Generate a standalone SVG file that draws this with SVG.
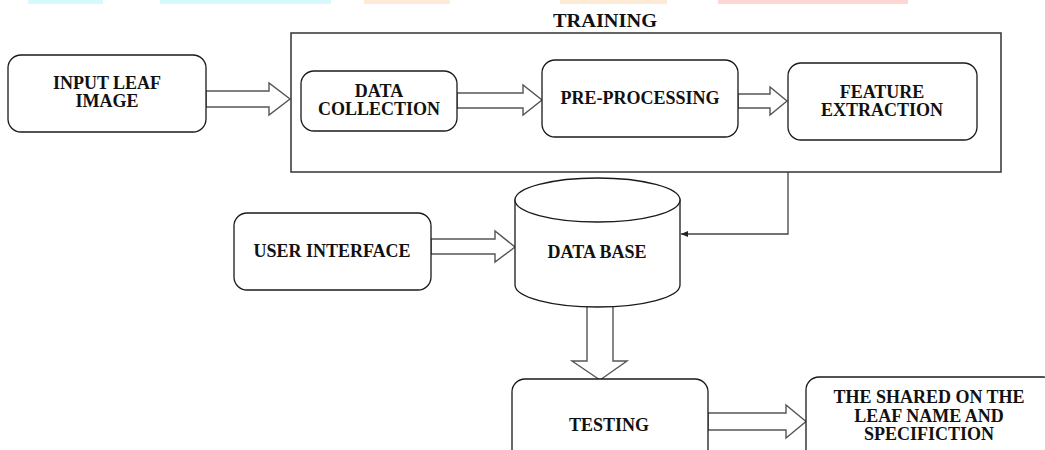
<svg xmlns="http://www.w3.org/2000/svg" width="1045" height="450" viewBox="0 0 1045 450">
  <style>
    .box { fill: #ffffff; stroke: #1a1a1a; stroke-width: 1.3; }
    .frame { fill: none; stroke: #333333; stroke-width: 1.5; }
    .blk { fill: #ffffff; stroke: #555555; stroke-width: 1.4; stroke-linejoin: miter; }
    .line { fill: none; stroke: #444444; stroke-width: 1.3; }
    .t { font-family: "Liberation Serif", "Times New Roman", serif; font-weight: bold; font-size: 18px; fill: #111111; text-anchor: middle; }
    .strip-c { fill: #d6fafc; }
    .strip-o { fill: #fdebd8; }
    .strip-p { fill: #fdd7d3; }
  </style>
  <defs>
    <marker id="ah" markerWidth="8" markerHeight="8" refX="7" refY="4" orient="auto" markerUnits="userSpaceOnUse">
      <path d="M0,1 L7,4 L0,7 Z" fill="#222222"/>
    </marker>
  </defs>
  <rect width="1045" height="450" fill="#ffffff"/>

  <!-- top decorative strips -->
  <g id="strips">
    <rect class="strip-c" x="28" y="0" width="75" height="4"/>
    <rect class="strip-c" x="160" y="0" width="171" height="4"/>
    <rect class="strip-o" x="364" y="0" width="86" height="4"/>
    <rect class="strip-o" x="560" y="0" width="107" height="4"/>
    <rect class="strip-p" x="718" y="0" width="190" height="4"/>
  </g>

  <!-- connectors -->
  <g id="connectors">
    <polygon class="blk" points="206,91 269,91 269,83 290,99 269,115 269,107 206,107"/>
    <polygon class="blk" points="457,93 523,93 523,85 542,100 523,115 523,108 457,108"/>
    <polygon class="blk" points="738,94 770,94 770,87 787,101 770,115 770,108 738,108"/>
    <polygon class="blk" points="431,239 495,239 495,231 515,247 495,262 495,254 431,254"/>
    <polygon class="blk" points="587,300 613,300 613,361 627,361 600,380 572,361 587,361"/>
    <polygon class="blk" points="708,413 786,413 786,405 806,421.5 786,438 786,430 708,430"/>
    <path class="line" d="M788,172 V234 H681" marker-end="url(#ah)"/>
  </g>

  <!-- training frame -->
  <g id="training">
    <rect class="frame" x="291" y="33" width="710" height="139"/>
    <text class="t" x="605" y="27" textLength="104" lengthAdjust="spacingAndGlyphs">TRAINING</text>
  </g>

  <g id="input-leaf-image">
    <rect class="box" x="8" y="55" width="198" height="77" rx="13"/>
    <text class="t" x="107" y="89">INPUT LEAF</text>
    <text class="t" x="107" y="107">IMAGE</text>
  </g>

  <g id="data-collection">
    <rect class="box" x="301" y="71" width="156" height="60" rx="13"/>
    <text class="t" x="379" y="97">DATA</text>
    <text class="t" x="379" y="115">COLLECTION</text>
  </g>

  <g id="pre-processing">
    <rect class="box" x="542" y="60" width="196" height="77" rx="13"/>
    <text class="t" x="640" y="104">PRE-PROCESSING</text>
  </g>

  <g id="feature-extraction">
    <rect class="box" x="788" y="63" width="189" height="77" rx="13"/>
    <text class="t" x="882" y="98">FEATURE</text>
    <text class="t" x="882" y="116">EXTRACTION</text>
  </g>

  <g id="user-interface">
    <rect class="box" x="234" y="213" width="197" height="77" rx="13"/>
    <text class="t" x="332" y="257">USER INTERFACE</text>
  </g>

  <g id="data-base">
    <path class="box" d="M515,200 V285 A82.5,22 0 0 0 680,285 V200 Z"/>
    <ellipse class="box" cx="597.5" cy="200" rx="82.5" ry="22"/>
    <text class="t" x="597" y="258">DATA BASE</text>
  </g>

  <g id="testing">
    <rect class="box" x="512" y="379" width="196" height="100" rx="13"/>
    <text class="t" x="609" y="431">TESTING</text>
  </g>

  <g id="result">
    <rect class="box" x="806" y="377" width="250" height="100" rx="13"/>
    <text class="t" x="929" y="403">THE SHARED ON THE</text>
    <text class="t" x="929" y="422">LEAF NAME AND</text>
    <text class="t" x="929" y="440">SPECIFICTION</text>
  </g>
</svg>
